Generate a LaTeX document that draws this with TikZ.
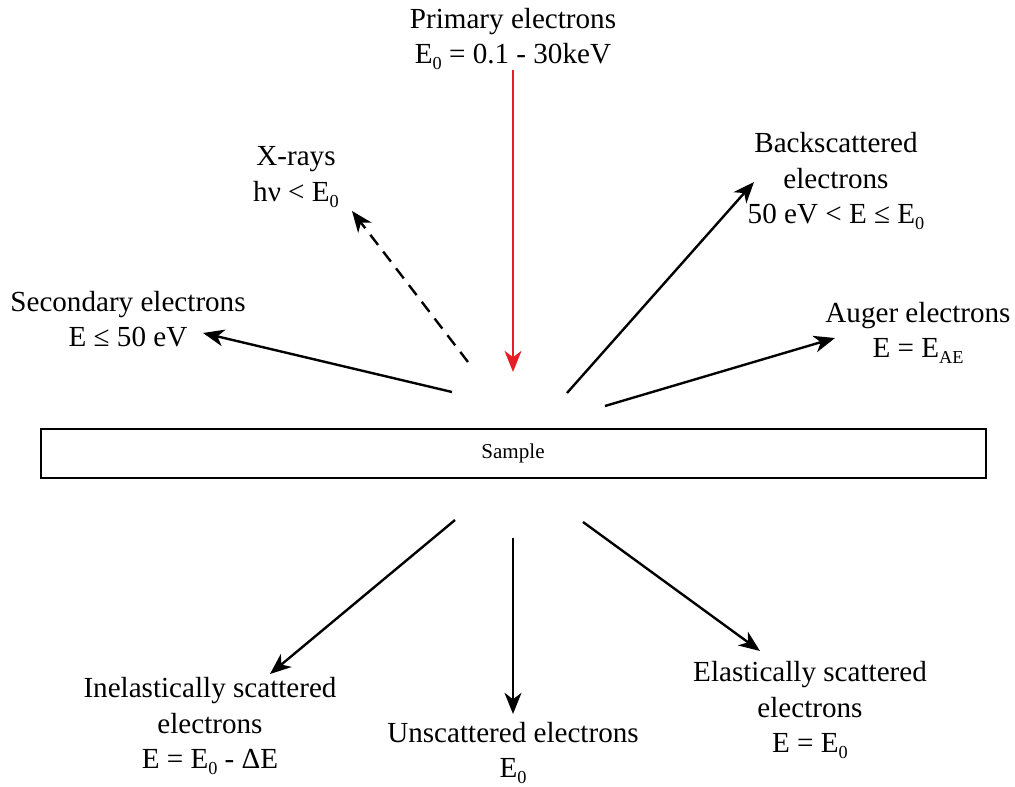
\documentclass[tikz,border=0pt]{standalone}
\usepackage{fontspec}
\setmainfont{Liberation Serif}
\usetikzlibrary{arrows.meta}
\definecolor{beam}{RGB}{232,28,36}
\newcommand{\lowsub}[1]{\raisebox{-0.45ex}{\fontsize{13}{13}\selectfont #1}}

\begin{document}
\begin{tikzpicture}[x=0.025cm, y=-0.025cm,
    lbl/.style={align=center, inner sep=0pt, font=\fontsize{20.7}{25}\selectfont},
    ray/.style={line width=1.7pt, -{Stealth[length=15pt, width=12pt, inset=4.5pt]}}]
    \useasboundingbox (0,0) rectangle (1015,787);

    % sample
    \draw[line width=1.3pt] (41,429) rectangle (986,478);
    \node[inner sep=0pt, font=\fontsize{15}{17}\selectfont] (sample) at (513,453) {Sample};

    % labels
    \node[lbl] (primary) at (513,39) {Primary electrons\\E\lowsub{0} = 0.1 - 30keV};
    \node[lbl] (xray) at (296,177) {X-rays\\hν < E\lowsub{0}};
    \node[lbl] (second) at (128,319) {Secondary electrons\\E ≤ 50 eV};
    \node[lbl] (back) at (836,181) {Backscattered\\electrons\\50 eV < E ≤ E\lowsub{0}};
    \node[lbl] (auger) at (918,333) {Auger electrons\\E = E\lowsub{AE}};
    \node[lbl] (inel) at (210,726) {Inelastically scattered\\electrons\\E = E\lowsub{0} - ΔE};
    \node[lbl] (unsc) at (513,753) {Unscattered electrons\\E\lowsub{0}};
    \node[lbl] (elas) at (810,710) {Elastically scattered\\electrons\\E = E\lowsub{0}};

    % end points
    \coordinate (p1) at (513,70);   \coordinate (p2) at (513,372);
    \coordinate (x1) at (468,362);  \coordinate (x2) at (352,211);
    \coordinate (s1) at (452,392);  \coordinate (s2) at (203,333);
    \coordinate (b1) at (567,393);  \coordinate (b2) at (754,182);
    \coordinate (a1) at (605,406);  \coordinate (a2) at (835,338);
    \coordinate (i1) at (455,520);  \coordinate (i2) at (270,674);
    \coordinate (u1) at (513,538);  \coordinate (u2) at (513,714);
    \coordinate (e1) at (583,522);  \coordinate (e2) at (760,651);

    % arrows
    \draw[ray, beam] (p1) -- (p2);
    \draw[ray, dash pattern=on 9pt off 6pt] (x1) -- (x2);
    \draw[ray] (s1) -- (s2);
    \draw[ray] (b1) -- (b2);
    \draw[ray] (a1) -- (a2);
    \draw[ray] (i1) -- (i2);
    \draw[ray] (u1) -- (u2);
    \draw[ray] (e1) -- (e2);
\end{tikzpicture}
\end{document}
